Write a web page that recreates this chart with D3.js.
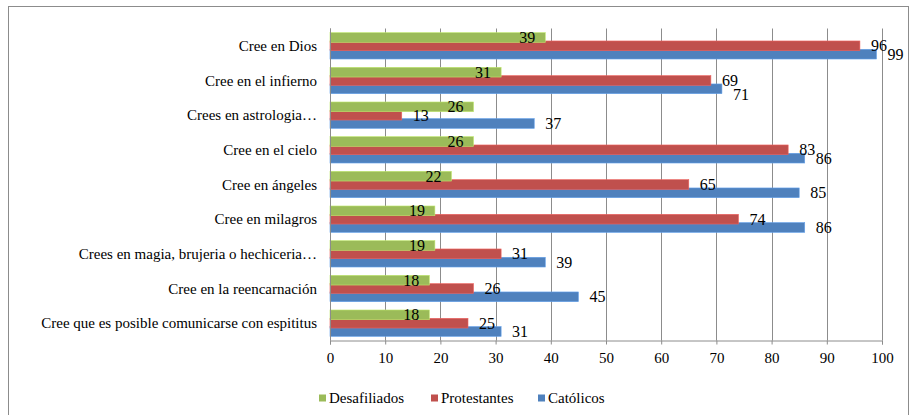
<!DOCTYPE html>
<html>
<head>
<meta charset="utf-8">
<script src="https://cdn.jsdelivr.net/npm/d3@7"></script>
<style>
  body { margin: 0; background: #fff; }
</style>
</head>
<body>
<div id="chart"></div>
<script>
var categories = [
  'Cree en Dios',
  'Cree en el infierno',
  'Crees en astrologia\u2026',
  'Cree en el cielo',
  'Cree en ángeles',
  'Cree en milagros',
  'Crees en magia, brujeria o hechiceria\u2026',
  'Cree en la reencarnación',
  'Cree que es posible comunicarse con espititus'
];
var seriesNames = ['Desafiliados', 'Protestantes', 'Católicos'];
var desafiliados = [39, 31, 26, 26, 22, 19, 19, 18, 18];
var protestantes = [96, 69, 13, 83, 65, 74, 31, 26, 25];
var catolicos = [99, 71, 37, 86, 85, 86, 39, 45, 31];
var xTicks = [0, 10, 20, 30, 40, 50, 60, 70, 80, 90, 100];

var serifFont = "'Liberation Serif', 'DejaVu Serif', 'Times New Roman', serif";
var colors = {
  'Desafiliados': '#9bbb59',
  'Protestantes': '#c0504d',
  'Católicos': '#4f81bd'
};
var seriesValues = {
  'Desafiliados': desafiliados,
  'Protestantes': protestantes,
  'Católicos': catolicos
};

var width = 913, height = 415;
var plot = {left: 330, right: 882, top: 28.5, bottom: 340.5};

var svg = d3.select('#chart').append('svg')
  .attr('width', width)
  .attr('height', height)
  .attr('font-family', serifFont);

// outer frame
svg.append('rect')
  .attr('x', 8.5).attr('y', 6.5)
  .attr('width', 900).attr('height', 420)
  .attr('fill', 'none')
  .attr('stroke', '#8c8c8c');

var x = d3.scaleLinear().domain([0, 100]).range([plot.left, plot.right]);
var y = d3.scaleBand().domain(categories).range([plot.top, plot.bottom])
  .paddingInner(0.28).paddingOuter(0.14);
var ySub = d3.scaleBand().domain(seriesNames).range([0, y.bandwidth()]);

// vertical gridlines
svg.append('g')
  .selectAll('line')
  .data(xTicks)
  .enter()
  .append('line')
  .attr('x1', d => Math.round(x(d)) + 0.5)
  .attr('x2', d => Math.round(x(d)) + 0.5)
  .attr('y1', plot.top)
  .attr('y2', plot.bottom)
  .attr('stroke', '#8c8c8c');

// bars: blue first, green last so it sits on top
var drawOrder = ['Católicos', 'Protestantes', 'Desafiliados'];
drawOrder.forEach(function(s) {
  svg.append('g')
    .selectAll('rect')
    .data(categories)
    .enter()
    .append('rect')
    .attr('x', x(0))
    .attr('y', d => y(d) + ySub(s) - 0.7)
    .attr('width', (d, i) => x(seriesValues[s][i]) - x(0))
    .attr('height', ySub.bandwidth() + 1.4)
    .attr('fill', colors[s])
    .attr('stroke', d3.color(colors[s]).brighter(0.6))
    .attr('stroke-width', 0.6);
});

// bottom axis
var xAxis = svg.append('g')
  .attr('transform', 'translate(0,' + plot.bottom + ')')
  .call(d3.axisBottom(x).tickValues(xTicks).tickSize(4).tickPadding(8));
xAxis.attr('font-family', serifFont).attr('font-size', 15);
xAxis.select('.domain').attr('stroke', '#8c8c8c');
xAxis.selectAll('.tick line').attr('stroke', '#8c8c8c');
xAxis.selectAll('text').attr('fill', '#000');

// left axis line
svg.append('line')
  .attr('x1', plot.left + 0.5).attr('x2', plot.left + 0.5)
  .attr('y1', plot.top).attr('y2', plot.bottom)
  .attr('stroke', '#8c8c8c');

// category labels
svg.append('g')
  .selectAll('text')
  .data(categories)
  .enter()
  .append('text')
  .attr('x', 317)
  .attr('y', d => y(d) + y.bandwidth() / 2)
  .attr('dy', '0.35em')
  .attr('text-anchor', 'end')
  .attr('font-size', 15)
  .text(d => d);

// data labels
var labelSize = 16;
function labelX(s, i) {
  var v = seriesValues[s][i];
  return s === 'Desafiliados' ? x(v) - 10 : x(v) + 11;
}
seriesNames.forEach(function(s) {
  svg.append('g')
    .selectAll('text')
    .data(categories)
    .enter()
    .append('text')
    .attr('x', (d, i) => labelX(s, i))
    .attr('y', function(d, i) {
      var yy = y(d) + ySub(s) + ySub.bandwidth() / 2;
      // nudge a Católicos label down when it runs into the Protestantes one
      if (s === 'Católicos') {
        var redEnd = labelX('Protestantes', i) + String(protestantes[i]).length * labelSize * 0.5;
        if (labelX(s, i) < redEnd) yy += 6;
      }
      return yy;
    })
    .attr('dy', '0.35em')
    .attr('text-anchor', s === 'Desafiliados' ? 'end' : 'start')
    .attr('font-size', labelSize)
    .text((d, i) => seriesValues[s][i]);
});

// legend
var legendX = [319, 431, 538];
var legend = svg.append('g')
  .selectAll('g')
  .data(seriesNames)
  .enter()
  .append('g')
  .attr('transform', (d, i) => 'translate(' + legendX[i] + ',398)');
legend.append('rect')
  .attr('x', 0).attr('y', -3.5)
  .attr('width', 7).attr('height', 7)
  .attr('fill', d => colors[d]);
legend.append('text')
  .attr('x', 10)
  .attr('dy', '0.35em')
  .attr('font-size', 15)
  .text(d => d);
</script>
</body>
</html>
